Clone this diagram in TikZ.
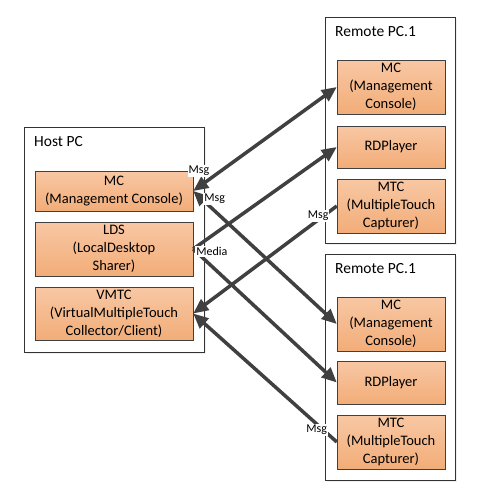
\documentclass[tikz,border=0pt]{standalone}
\usepackage{fontspec}
\setmainfont{Carlito}
\usetikzlibrary{positioning,arrows.meta,shadows}
\definecolor{parttop}{HTML}{F8C7A4}
\definecolor{partbot}{HTML}{F2AD78}
\definecolor{linkgray}{HTML}{404040}
\tikzset{pcbox/.style={draw=black!80,thin,fill=white,inner sep=0pt,drop shadow={shadow xshift=2pt,shadow yshift=-2pt,fill=black!12}}}
\tikzset{pctitle/.style={anchor=north west,inner sep=0pt,font=\fontsize{15.5}{18}\selectfont}}
\tikzset{part/.style={draw=black!75,thin,top color=parttop,bottom color=partbot,align=center,inner sep=0pt,font=\fontsize{14.5}{18}\selectfont}}
\tikzset{link/.style={draw=linkgray,line width=3.5pt,-{Triangle[length=15pt,width=13pt]}}}
\tikzset{dlink/.style={link,{Triangle[length=15pt,width=13pt]}-{Triangle[length=15pt,width=13pt]}}}
\tikzset{msg/.style={fill=white,inner sep=1pt,font=\fontsize{12}{13}\selectfont}}

\begin{document}
\begin{tikzpicture}[x=1pt,y=-1pt]
\useasboundingbox (0,0) rectangle (477,498);
\node[pcbox,minimum width=180pt,minimum height=225pt] (host) at (114,239.5) {};
\node[pcbox,minimum width=130pt,minimum height=226pt] (remA) at (390,130) {};
\node[pcbox,minimum width=130pt,minimum height=226pt] (remB) at (390,367) {};
\node[pctitle] (hosttitle) at (34,136) {Host PC};
\node[pctitle] (remAtitle) at (335,26) {Remote PC.1};
\node[pctitle] (remBtitle) at (335,263) {Remote PC.1};

\node[part,minimum width=158pt,minimum height=40pt] (hostmc) at (114,191) {MC\\(Management Console)};
\node[part,minimum width=158pt,minimum height=54pt] (lds) at (114,249) {LDS\\(LocalDesktop\\Sharer)};
\node[part,minimum width=158pt,minimum height=53pt] (vmtc) at (114,313.5) {VMTC\\(VirtualMultipleTouch\\Collector/Client)};

\node[part,minimum width=108pt,minimum height=54pt] (remAmc) at (391,87) {MC\\(Management\\Console)};
\node[part,minimum width=108pt,minimum height=42pt] (remArdp) at (391,147) {RDPlayer};
\node[part,minimum width=108pt,minimum height=54pt] (remAmtc) at (391,206) {MTC\\(MultipleTouch\\Capturer)};

\node[part,minimum width=108pt,minimum height=54pt] (remBmc) at (391,324) {MC\\(Management\\Console)};
\node[part,minimum width=108pt,minimum height=43pt] (remBrdp) at (391,382.5) {RDPlayer};
\node[part,minimum width=108pt,minimum height=54pt] (remBmtc) at (391,442) {MTC\\(MultipleTouch\\Capturer)};

\draw[dlink] (hostmc.east) -- (remAmc.west) node[msg,pos=0.04,yshift=16pt] (msgA) {Msg};
\draw[dlink] (hostmc.east) -- (remBmc.west) node[msg,pos=0.15,yshift=12pt] (msgB) {Msg};
\draw[link] (lds.east) -- (remArdp.west);
\draw[link] (lds.east) -- (remBrdp.west) node[msg,pos=0.13,yshift=15pt] (media) {Media};
\draw[link] (remAmtc.west) -- (vmtc.east) node[msg,pos=0.13,yshift=4pt] (msgC) {Msg};
\draw[link] (remBmtc.west) -- (vmtc.east) node[msg,pos=0.14,yshift=-6pt] (msgD) {Msg};
\end{tikzpicture}
\end{document}
